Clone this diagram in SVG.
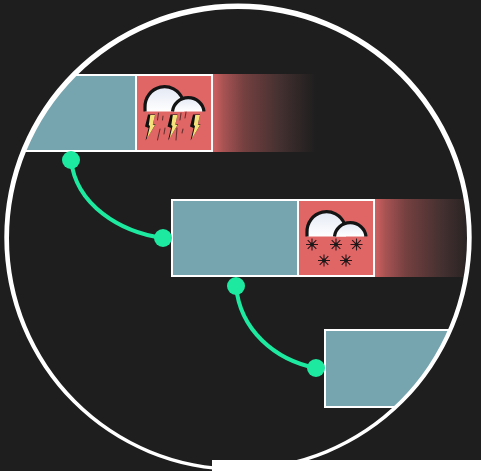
<svg xmlns="http://www.w3.org/2000/svg" xmlns:xlink="http://www.w3.org/1999/xlink" width="481" height="471" viewBox="0 0 481 471">
<style>
.teal{fill:#76a5af;stroke:#fff;stroke-width:2}
.red{fill:#e06666;stroke:#fff;stroke-width:2}
.arc{stroke:#141414;stroke-width:3.200;fill:none}
.puff{fill:url(#cloud)}
.link{fill:none;stroke:#1de9a0;stroke-width:4;stroke-linecap:round}
.dot{fill:#1de9a0}
.rain{stroke:#6a3030;stroke-width:1.100;stroke-linecap:round;fill:none}
.flake{stroke:#2a1518;stroke-width:1.100;fill:none}
</style>
<defs>
<clipPath id="disc"><circle cx="238" cy="238" r="232"/></clipPath>
<linearGradient id="fade" x1="0" x2="1" y1="0" y2="0">
<stop offset="0" stop-color="#d06060"/><stop offset="0.1" stop-color="#a85353"/><stop offset="0.3" stop-color="#754040"/><stop offset="0.65" stop-color="#443030"/><stop offset="1" stop-color="#1e1e1e"/>
</linearGradient>
<linearGradient id="cloud" x1="0" x2="0" y1="0" y2="1">
<stop offset="0" stop-color="#e4e9f4"/><stop offset="1" stop-color="#ffffff"/>
</linearGradient>
<g id="clouds">
<path class="puff" d="M145 111.500V107.500A19.500 20 0 0 1 184 107.500V111.500Z"/>
<path class="arc" d="M145 111.500V107.500A19.500 20 0 0 1 182.500 99"/>
<path class="puff" d="M172.500 111.500A15.800 15 0 0 1 204 111.500Z"/>
<path class="arc" d="M172.500 111.500A15.800 15 0 0 1 204 111.500"/>
</g>
<g id="bolt">
<polygon points="148,114.500 155,114.500 153,124 155.500,124.500 145.500,140.500 148.500,128 145,126.500" fill="#111"/>
<polygon points="150.300,115 155,115 152.800,124.500 155,125 147,138.500 150,126 148.800,125" fill="#f6e27a"/>
</g>
<g id="flake" class="flake">
<path d="M-6 0H6M0 -6V6M-4.300 -4.300L4.300 4.300M-4.300 4.300L4.300 -4.300"/>
<circle r="2" fill="#1a1a1a" stroke="none"/>
</g>
</defs>
<rect id="background" width="481" height="471" fill="#1e1e1e"/>
<g clip-path="url(#disc)">
<g id="block-1">
<rect class="teal" x="-10" y="75" width="146" height="76"/>
<rect class="red" x="136" y="75" width="76" height="76"/>
<rect x="213" y="74" width="103" height="78" fill="url(#fade)"/>
<g id="icon-storm">
<use href="#clouds"/>
<use href="#bolt"/>
<use href="#bolt" x="22.500"/>
<use href="#bolt" x="45"/>
<path class="rain" d="M158.500 113L157.500 120M163 116L162.500 120M181 113L180 120M186 112L185 118M165 128L164 134M160 129L157.500 140M177 128L176 140M183 129L182 133"/>
</g>
</g>
<g id="block-2">
<rect class="teal" x="172" y="200" width="126" height="76"/>
<rect class="red" x="298" y="200" width="76" height="76"/>
<rect x="375" y="199" width="103" height="78" fill="url(#fade)"/>
<g id="icon-snow">
<use href="#clouds" x="162" y="125"/>
<use href="#flake" x="312" y="244.500"/>
<use href="#flake" x="336" y="244.500"/>
<use href="#flake" x="356.500" y="244.500"/>
<use href="#flake" x="324" y="260.500"/>
<use href="#flake" x="346" y="260.500"/>
</g>
</g>
<g id="block-3">
<rect class="teal" x="325" y="330" width="150" height="77"/>
</g>
</g>
<path id="boundary" fill="#fff" fill-rule="evenodd" d="M4.300 237.300A233.700 233.700 0 1 1 471.700 237.300A233.700 233.700 0 1 1 4.300 237.300ZM9 238.300A229 229.300 0 1 0 467 238.300A229 229.300 0 1 0 9 238.300Z"/>
<g id="connectors">
<path class="link" d="M71 160C76 205 120 232 163 238"/>
<path class="link" d="M236 286C240 330 275 360 316 368"/>
<circle class="dot" cx="71" cy="160" r="9"/>
<circle class="dot" cx="163" cy="238" r="9"/>
<circle class="dot" cx="236" cy="286" r="9"/>
<circle class="dot" cx="316" cy="368" r="9"/>
</g>
<rect id="bottom-bar" x="212" y="460" width="269" height="11" fill="#fff"/>
</svg>
